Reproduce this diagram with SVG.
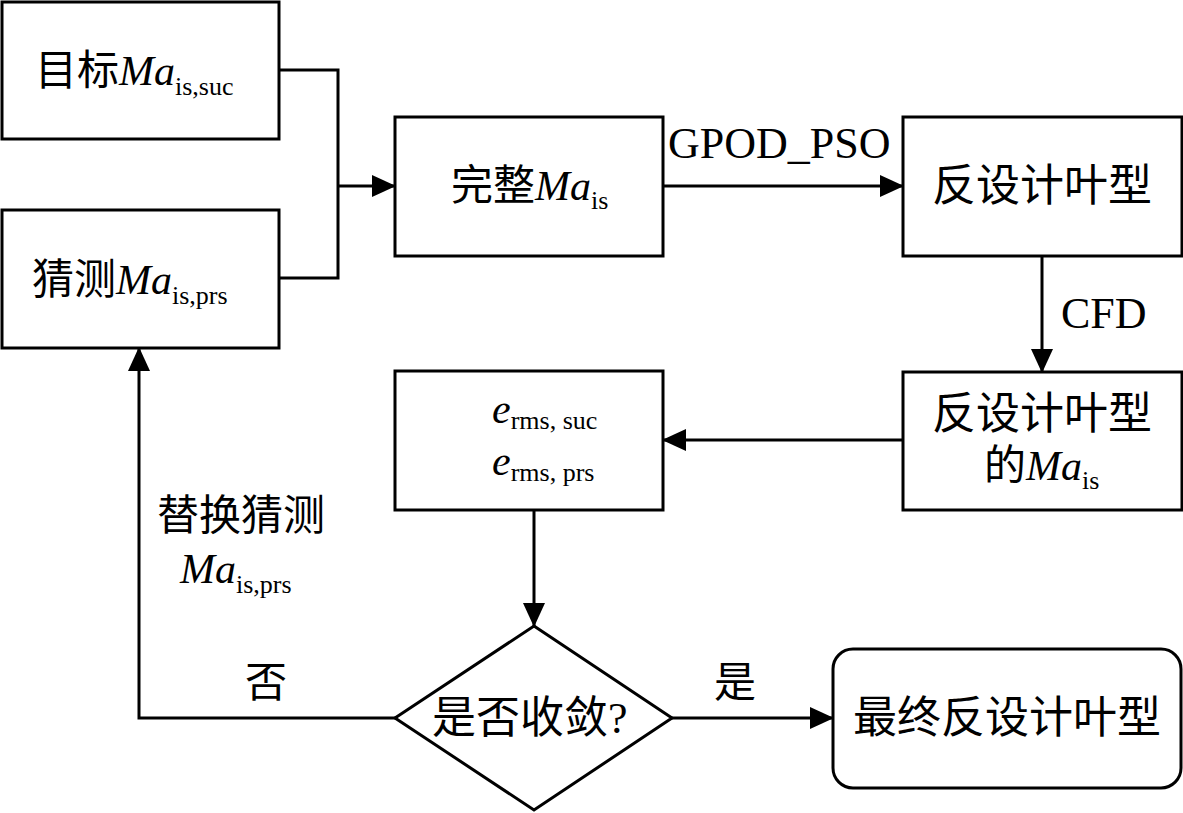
<svg xmlns="http://www.w3.org/2000/svg" width="1183" height="813" viewBox="0 0 1183 813">
<style>
.box{fill:#fff;stroke:#000;stroke-width:3}
.ln{fill:none;stroke:#000;stroke-width:3}
text{font-family:"Liberation Serif","Noto Sans CJK SC",serif;font-size:42px;fill:#000}
.lg{font-size:44px}
.it{font-style:italic}
.sub{font-size:26px}
</style>
<defs>
<marker id="ah" markerUnits="userSpaceOnUse" markerWidth="24" markerHeight="24" viewBox="0 0 24 24" refX="23" refY="12" orient="auto">
<path d="M0,1 L24,12 L0,23 Z" fill="#000"/>
</marker>
</defs>
<rect width="1183" height="813" fill="#fff"/>
<g id="connectors">
<polyline class="ln" points="279,70 338,70 338,278 279,278"/>
<line class="ln" x1="338" y1="186" x2="395" y2="186" marker-end="url(#ah)"/>
<line class="ln" x1="663" y1="186" x2="903" y2="186" marker-end="url(#ah)"/>
<line class="ln" x1="1042" y1="256" x2="1042" y2="372" marker-end="url(#ah)"/>
<line class="ln" x1="903" y1="440" x2="663" y2="440" marker-end="url(#ah)"/>
<line class="ln" x1="534" y1="510" x2="534" y2="626" marker-end="url(#ah)"/>
<line class="ln" x1="672" y1="718" x2="833" y2="718" marker-end="url(#ah)"/>
<polyline class="ln" points="395,718 139,718 139,348" marker-end="url(#ah)"/>
<text class="lg" x="668" y="158">GPOD_PSO</text>
<text class="lg" x="1061" y="328">CFD</text>
<text x="714" y="697">是</text>
<text x="245" y="697">否</text>
<text x="157" y="530">替换猜测</text>
<text x="180" y="583"><tspan class="it">Ma</tspan><tspan class="sub" dy="10">is,prs</tspan></text>
</g>
<g id="target">
<rect class="box" x="2" y="2" width="277" height="137"/>
<text x="35" y="85">目标<tspan class="it">Ma</tspan><tspan class="sub" dy="10">is,suc</tspan></text>
</g>
<g id="guess">
<rect class="box" x="2" y="210" width="277" height="138"/>
<text x="32" y="294">猜测<tspan class="it">Ma</tspan><tspan class="sub" dy="10">is,prs</tspan></text>
</g>
<g id="complete">
<rect class="box" x="395" y="117" width="268" height="139"/>
<text x="451" y="200">完整<tspan class="it">Ma</tspan><tspan class="sub" dy="9">is</tspan></text>
</g>
<g id="inverse">
<rect class="box" x="903" y="117" width="279" height="139"/>
<text class="lg" x="1042" y="201" text-anchor="middle">反设计叶型</text>
</g>
<g id="inverse-ma">
<rect class="box" x="903" y="372" width="279" height="138"/>
<text class="lg" x="1042" y="429" text-anchor="middle">反设计叶型</text>
<text x="984" y="480">的<tspan class="it">Ma</tspan><tspan class="sub" dy="9">is</tspan></text>
</g>
<g id="errors">
<rect class="box" x="395" y="371" width="268" height="139"/>
<text x="492" y="423"><tspan class="it">e</tspan><tspan class="sub" dy="6">rms, suc</tspan></text>
<text x="492" y="475"><tspan class="it">e</tspan><tspan class="sub" dy="6">rms, prs</tspan></text>
</g>
<g id="converge">
<polygon class="box" points="534,626 672,718 534,810 395,718"/>
<text class="lg" x="432" y="733">是否收敛?</text>
</g>
<g id="final">
<rect class="box" x="833" y="649" width="348" height="139" rx="20"/>
<text class="lg" x="1007" y="733" text-anchor="middle">最终反设计叶型</text>
</g>
</svg>
